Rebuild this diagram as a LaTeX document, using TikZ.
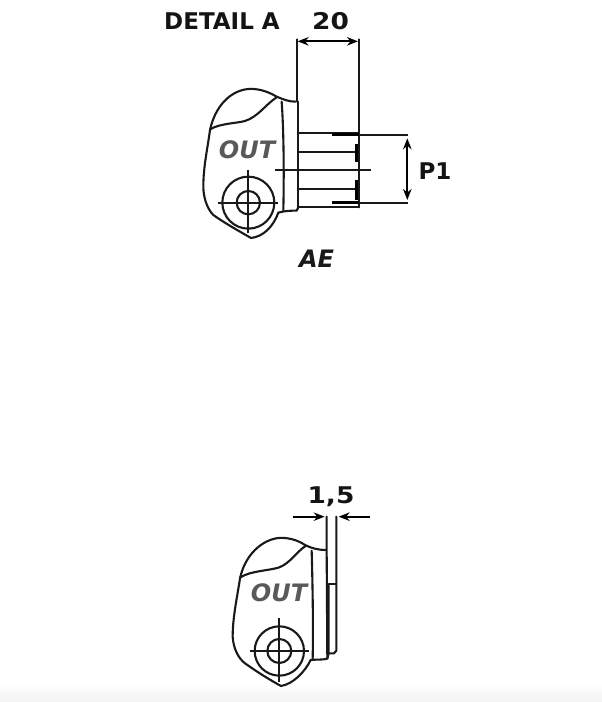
\documentclass[tikz,border=0pt]{standalone}
\usepackage{fontspec}
\setmainfont{DejaVu Sans}
\usetikzlibrary{arrows.meta}
\tikzset{
  pline/.style={line width=2.1pt,black!90,line join=round,line cap=round},
  thin line/.style={line width=1.9pt,black!90},
  thick tick/.style={line width=3pt,black},
  dim/.style={line width=1.8pt,black,{Stealth[length=11pt,width=8.5pt]}-{Stealth[length=11pt,width=8.5pt]}},
  single/.style={line width=1.8pt,black,-{Stealth[length=11pt,width=8.5pt]}},
  lab/.style={font=\bfseries\fontsize{23}{23}\selectfont,black!92,inner sep=0pt},
  numlab/.style={lab,xscale=1.15,transform shape},
  outlab/.style={font=\bfseries\itshape\fontsize{24}{24}\selectfont,black!65,inner sep=0pt},
  aelab/.style={font=\bfseries\itshape\fontsize{24}{24}\selectfont,black!90,inner sep=0pt}
}
\begin{document}
\begin{tikzpicture}[x=1pt,y=-1pt]
\useasboundingbox (0,0) rectangle (602,702);
\fill[white] (0,0) rectangle (602,702);
\shade[top color=white,bottom color=black!5] (0,684) rectangle (602,702);
\draw[orange!80!red,line width=1pt] (596,0) arc (180:360:2 and 3);
% ---- detail A
\begin{scope}[shift={(150,0)},x=0.3333pt,y=-0.3333pt]
\draw[pline] (437,305) .. controls (415,305) and (400,298) .. (380,290)
  .. controls (350,272) and (320,265) .. (295,267)
  .. controls (240,272) and (195,320) .. (180,390)
  .. controls (172,450) and (160,500) .. (160,560)
  .. controls (160,590) and (170,625) .. (190,645)
  .. controls (225,670) and (270,695) .. (303,714)
  .. controls (340,710) and (370,680) .. (385,638)
  .. controls (405,632) and (425,632) .. (440,632) -- (445,622);
\draw[pline] (180,388) .. controls (210,370) and (260,370) .. (285,363)
  .. controls (325,350) and (345,315) .. (380,292);
\draw[pline] (395,305) .. controls (402,400) and (402,540) .. (400,632);
\draw[pline] (440,118) -- (440,305);
\draw[pline] (443,305) -- (443,622) -- (627,622);
\draw[pline] (627,118) -- (627,622);
\draw[dim] (443,124) -- (624,124);
\draw[thin line] (445,398) -- (627,398);
\draw[thick tick] (545,405) -- (627,405);
\draw[thin line] (627,405) -- (775,405);
\draw[thin line] (445,455) -- (620,455);
\draw[thin line] (375,510) -- (663,510);
\draw[thin line] (445,567) -- (620,567);
\draw[thick tick] (545,608) -- (627,608);
\draw[thin line] (627,608) -- (775,608);
\draw[thick tick] (620,432) -- (620,487);
\draw[thick tick] (620,540) -- (620,600);
\draw[dim] (772,415) -- (772,600);
\draw[pline] (295,608) circle[radius=78];
\draw[pline] (295,608) circle[radius=35];
\draw[thin line] (205,608) -- (385,608);
\draw[thin line] (295,510) -- (295,700);
\end{scope}
\node[lab,anchor=west] (detail) at (164,21.5) {DETAIL A};
\node[numlab] (twenty) at (330.5,21.5) {20};
\node[lab] (pone) at (435,171) {P1};
\node[outlab] (outa) at (247,149.5) {OUT};
\node[aelab] (ae) at (316.5,259) {AE};
% ---- lower view
\begin{scope}[shift={(220,480)},x=0.3333pt,y=-0.3333pt]
\draw[pline] (318,210) .. controls (295,210) and (275,205) .. (255,195)
  .. controls (230,178) and (200,172) .. (175,174)
  .. controls (125,180) and (75,225) .. (60,295)
  .. controls (52,350) and (38,410) .. (38,470)
  .. controls (40,505) and (55,535) .. (75,550)
  .. controls (110,575) and (150,600) .. (183,618)
  .. controls (220,612) and (255,575) .. (272,540)
  .. controls (290,538) and (310,540) .. (322,536) -- (326,520);
\draw[pline] (60,293) .. controls (90,272) and (150,272) .. (178,262)
  .. controls (210,250) and (230,215) .. (258,197);
\draw[pline] (275,212) .. controls (278,320) and (280,440) .. (278,538);
\draw[pline] (320,110) -- (320,210) -- (322,535);
\draw[pline] (326,312) -- (326,520) -- (342,520) -- (349,512) -- (349,110);
\draw[thin line] (326,312) -- (349,312);
\draw[single] (220,110) -- (314,110);
\draw[single] (450,110) -- (356,110);
\draw[pline] (178,513) circle[radius=74];
\draw[pline] (178,513) circle[radius=36];
\draw[thin line] (90,513) -- (266,513);
\draw[thin line] (178,415) -- (178,605);
\end{scope}
\node[numlab] (onefive) at (331,497) {1,5};
\node[outlab] (outb) at (279,593) {OUT};
\end{tikzpicture}
\end{document}
